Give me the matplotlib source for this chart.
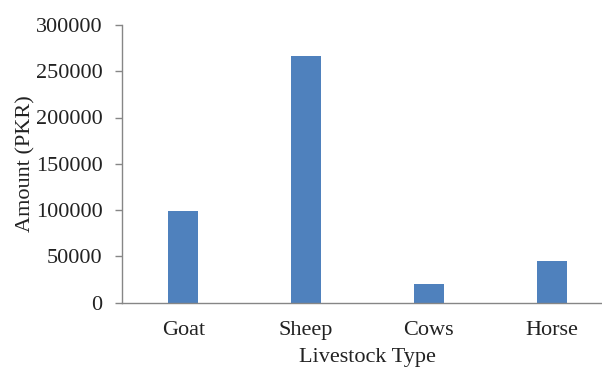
import matplotlib
matplotlib.use("Agg")
import matplotlib.pyplot as plt

# data
livestock = ["Goat", "Sheep", "Cows", "Horse"]
amount_pkr = [99000, 267000, 20000, 45000]
y_ticks = [0, 50000, 100000, 150000, 200000, 250000, 300000]

plt.rcParams["font.family"] = ["Liberation Serif", "DejaVu Serif"]
plt.rcParams["font.size"] = 16

W, H = 602, 367
fig = plt.figure(figsize=(W / 100, H / 100), dpi=100)

# axes box in pixels (right end runs past the figure edge like the original)
left, right, top, bottom = 122, 613, 25, 302.5
ax = fig.add_axes([left / W, (H - bottom) / H, (right - left) / W, (bottom - top) / H])

x = range(len(livestock))
ax.bar(x, amount_pkr, width=0.245, color="#4F81BD")

ax.set_xlim(-0.5, 3.5)
ax.set_ylim(0, 300000)
ax.set_yticks(y_ticks)
ax.set_yticklabels([str(v) for v in y_ticks])
ax.set_xticks(list(x))
ax.set_xticklabels(livestock)

for side in ["top", "right"]:
    ax.spines[side].set_visible(False)
for side in ["left", "bottom"]:
    ax.spines[side].set_color("#868686")
    ax.spines[side].set_linewidth(1.0)

ax.tick_params(axis="y", direction="out", length=5, width=1, color="#868686", pad=9, labelcolor="#222222")
ax.tick_params(axis="x", length=0, pad=13, labelcolor="#222222")

ax.set_xlabel("Livestock Type", color="#222222", labelpad=6)
ax.set_ylabel("Amount (PKR)", color="#222222", labelpad=0)

fig.savefig("out.png", dpi=100)
